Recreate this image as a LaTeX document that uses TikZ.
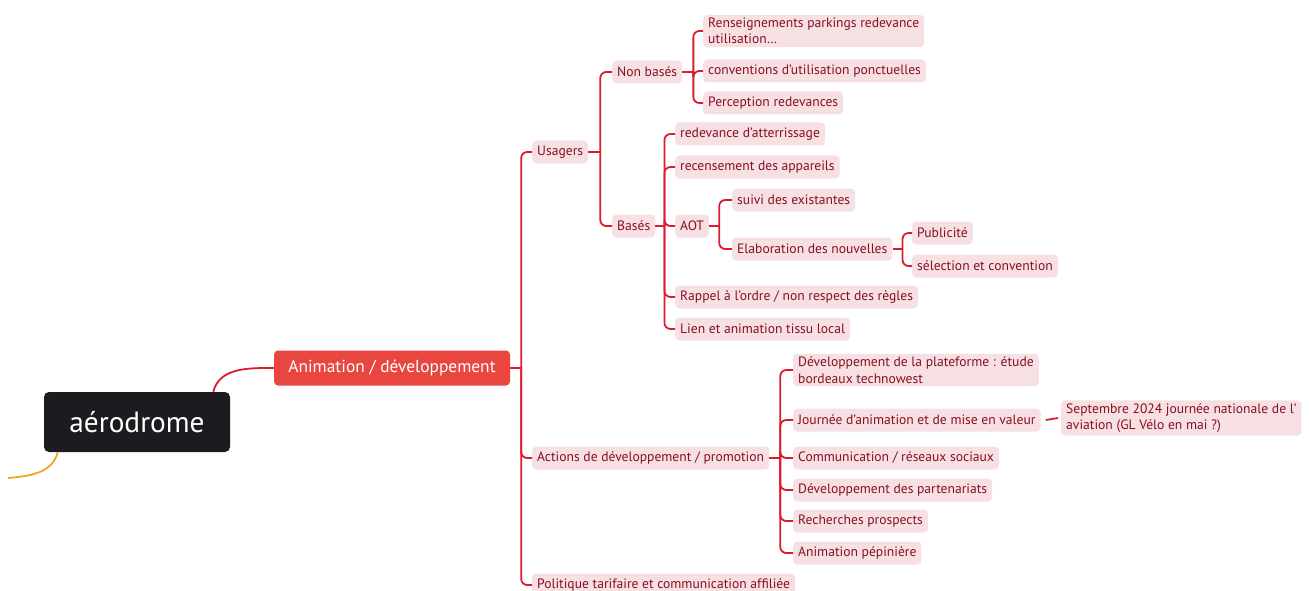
\documentclass[tikz,border=0pt]{standalone}
\usepackage{fontspec}
\setmainfont{PT Sans}
\definecolor{linkred}{RGB}{218,28,44}
\definecolor{leafpink}{RGB}{246,224,228}
\definecolor{leafink}{RGB}{135,16,30}
\definecolor{animred}{RGB}{232,70,62}
\definecolor{rootdark}{RGB}{28,28,32}
\definecolor{branchorange}{RGB}{240,165,40}

\begin{document}
\begin{tikzpicture}[x=1pt, y=-1pt,
    leaf/.style={rectangle, rounded corners=4pt, fill=leafpink, text=leafink,
                 font=\fontsize{13.6}{16.5}\selectfont, inner xsep=5pt, inner ysep=3pt,
                 minimum height=23pt, anchor=west, align=left},
    link/.style={draw=linkred, line width=1.8pt, rounded corners=6pt},
]
\clip (0,0) rectangle (1309,591);

% centre et premier niveau
\node[rectangle, rounded corners=5pt, fill=rootdark, text=white, minimum width=186pt,
      minimum height=60pt, font=\fontsize{29.3}{33}\selectfont] (root) at (137,422) {aérodrome};
\node[rectangle, rounded corners=4pt, fill=animred, text=white, minimum width=236pt,
      minimum height=35pt, font=\fontsize{17.4}{20}\selectfont] (anim) at (392,368) {Animation / développement};
\coordinate (orangeEnd) at (8,478);
\draw[branchorange, line width=1.8pt] ([xshift=14pt]root.south west) to[out=-105, in=5] (orangeEnd);
\draw[link] ([xshift=-17pt]root.north east) to[out=75, in=180] (anim.west);

\node[leaf] (usag) at (532,152) {Usagers};
\node[leaf] (actn) at (532,458) {Actions de développement / promotion};
\node[leaf] (poli) at (532,585) {Politique tarifaire et communication affiliée};

% Usagers
\node[leaf] (nonb) at (612,72) {Non basés};
\node[leaf] (base) at (612,226) {Basés};
\node[leaf] (rens) at (703,31) {Renseignements parkings redevance\\utilisation…};
\node[leaf] (conv) at (703,71) {conventions d'utilisation ponctuelles};
\node[leaf] (perc) at (703,103) {Perception redevances};
\node[leaf] (redv) at (675,134) {redevance d'atterrissage};
\node[leaf] (recs) at (675,167) {recensement des appareils};
\node[leaf] (aot)  at (675,226) {AOT};
\node[leaf] (rapp) at (675,297) {Rappel à l'ordre / non respect des règles};
\node[leaf] (lien) at (675,329) {Lien et animation tissu local};
\node[leaf] (suiv) at (732,200) {suivi des existantes};
\node[leaf] (elab) at (732,249) {Elaboration des nouvelles};
\node[leaf] (publ) at (912,233) {Publicité};
\node[leaf] (selc) at (912,266) {sélection et convention};

% Actions
\node[leaf] (dplt) at (793,370) {Développement de la plateforme : étude\\bordeaux technowest};
\node[leaf] (jour) at (793,420) {Journée d'animation et de mise en valeur};
\node[leaf] (comm) at (793,458) {Communication / réseaux sociaux};
\node[leaf] (part) at (793,490) {Développement des partenariats};
\node[leaf] (rech) at (793,521) {Recherches prospects};
\node[leaf] (pepi) at (793,553) {Animation pépinière};
\node[leaf] (sept) at (1061,418) {Septembre 2024 journée nationale de l'\\aviation (GL Vélo en mai ?)};

% liens
\coordinate (jAnim) at ([xshift=11pt]anim.east);
\draw[link] (anim.east) -- (jAnim);
\draw[link] (jAnim) |- (usag.west);
\draw[link] (jAnim) |- (actn.west);
\draw[link] (jAnim) |- (poli.west);

\coordinate (jUsag) at ([xshift=12pt]usag.east);
\draw[link] (usag.east) -- (jUsag);
\draw[link] (jUsag) |- (nonb.west);
\draw[link] (jUsag) |- (base.west);

\coordinate (jNonb) at ([xshift=11pt]nonb.east);
\draw[link] (nonb.east) -- (jNonb);
\draw[link] (jNonb) |- (rens.west);
\draw[link] (jNonb) |- (conv.west);
\draw[link] (jNonb) |- (perc.west);

\coordinate (jBase) at ([xshift=9pt]base.east);
\draw[link] (base.east) -- (jBase);
\draw[link] (jBase) |- (redv.west);
\draw[link] (jBase) |- (recs.west);
\draw[link] (jBase) |- (aot.west);
\draw[link] (jBase) |- (rapp.west);
\draw[link] (jBase) |- (lien.west);

\coordinate (jAot) at ([xshift=10pt]aot.east);
\draw[link] (aot.east) -- (jAot);
\draw[link] (jAot) |- (suiv.west);
\draw[link] (jAot) |- (elab.west);

\coordinate (jElab) at ([xshift=10pt]elab.east);
\draw[link] (elab.east) -- (jElab);
\draw[link] (jElab) |- (publ.west);
\draw[link] (jElab) |- (selc.west);

\coordinate (jActn) at ([xshift=11pt]actn.east);
\draw[link] (actn.east) -- (jActn);
\draw[link] (jActn) |- (dplt.west);
\draw[link] (jActn) |- (jour.west);
\draw[link] (jActn) |- (comm.west);
\draw[link] (jActn) |- (part.west);
\draw[link] (jActn) |- (rech.west);
\draw[link] (jActn) |- (pepi.west);

\draw[link] ([xshift=5pt]jour.east) -- ([xshift=-3pt]sept.west);
\end{tikzpicture}
\end{document}
